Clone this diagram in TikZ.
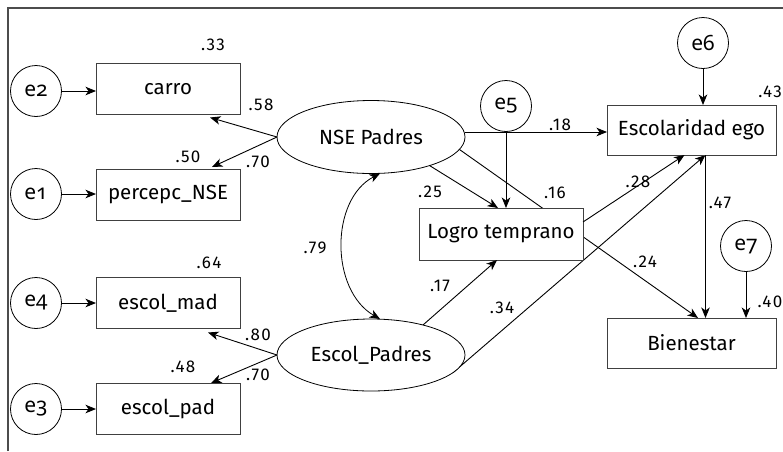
\documentclass[tikz,border=0pt]{standalone}
\usepackage{fontspec}
\setmainfont{Fira Sans}
\newfontfamily\errfont[Numbers=OldStyle]{Noto Sans}
\newfontfamily\coeffont[LetterSpace=8]{Fira Sans}
\usetikzlibrary{arrows.meta,shapes.geometric,backgrounds,calc}

\begin{document}
\begin{tikzpicture}[x=1pt,y=-1pt,
  every node/.style={inner sep=0pt, outer sep=0pt},
  txt/.style={font=\fontsize{20.5}{24}\selectfont},
  obs/.style={txt, rectangle, draw=black!75, line width=0.9pt, fill=white, minimum height=51pt},
  lat/.style={txt, ellipse, draw, line width=0.8pt, fill=white, minimum width=188pt, minimum height=73pt},
  err/.style={circle, draw, line width=0.8pt, fill=white, minimum size=51pt,
              font=\errfont\fontsize{21}{24}\selectfont},
  coef/.style={font=\coeffont\fontsize{17}{18}\selectfont},
  arr/.style={line width=0.9pt, -{Stealth[length=10.5pt,width=8.5pt,inset=3pt]}},
  frameline/.style={draw=black!70, line width=1.6pt}]

\useasboundingbox (0,0) rectangle (783,451);

% outer frame (top and left edges)
\coordinate (fbl) at (8,451);
\coordinate (ftl) at (8,8);
\coordinate (ftr) at (783,8);
\draw[frameline] (fbl) -- (ftl) -- (ftr);

% measured indicators and their errors
\node[err] (e2) at (36,91) {e2};
\node[obs, minimum width=144pt] (carro) at (168,89) {carro};
\node[err] (e1) at (36,194) {e1};
\node[obs, minimum width=144pt] (percepc) at (168,194.5) {percepc\_NSE};
\node[err] (e4) at (36,303) {e4};
\node[obs, minimum width=144pt] (escolmad) at (168,303) {escol\_mad};
\node[err] (e3) at (36,409) {e3};
\node[obs, minimum width=144pt] (escolpad) at (168,408.5) {escol\_pad};

% latent factors
\node[lat] (nse) at (371,137) {NSE Padres};
\node[lat, minimum height=72pt] (escp) at (371,355) {Escol\_Padres};

% endogenous variables
\node[err] (e5) at (506,106) {e5};
\node[obs, minimum width=164pt, minimum height=52pt] (logro) at (501,234) {Logro temprano};
\node[obs, minimum width=169pt, minimum height=50pt] (escego) at (691.5,130) {Escolaridad ego};
\node[err] (e6) at (703,43) {e6};
\node[obs, minimum width=169pt, minimum height=50pt] (bien) at (691.5,343) {Bienestar};
\node[err] (e7) at (746,246) {e7};

% paths that run behind the Logro temprano box
\begin{scope}[on background layer]
  \draw[arr] (nse.-8.5) -- ([xshift=6.5pt]bien.north);
  \draw[arr] (escp.-12.5) -- ([xshift=14pt]escego.south);
\end{scope}

% error terms
\draw[arr] (e2.east) -- (e2.east -| carro.west);
\draw[arr] (e1.east) -- (e1.east -| percepc.west);
\draw[arr] (e4.east) -- (e4.east -| escolmad.west);
\draw[arr] (e3.east) -- (e3.east -| escolpad.west);
\draw[arr] (e5.south) -- (e5.south |- logro.north);
\draw[arr] (e6.south) -- (e6.south |- escego.north);
\draw[arr] (e7.south) -- (e7.south |- bien.north);

% loadings
\draw[arr] (nse.west) -- ([shift={(-30pt,-3pt)}]carro.south east);
\draw[arr] (nse.west) -- ([shift={(-28pt,2pt)}]percepc.north east);
\draw[arr] (escp.west) -- ([shift={(-32pt,-4pt)}]escolmad.south east);
\draw[arr] (escp.west) -- ([xshift=-29pt]escolpad.north east);

% factor covariance
\draw[line width=0.8pt, {Stealth[length=10.5pt,width=8.5pt,inset=3pt]}-{Stealth[length=10.5pt,width=8.5pt,inset=3pt]}]
  ([xshift=9pt]nse.south) .. controls +(-50,26) and +(-50,-29) .. ([xshift=9pt]escp.north);

% structural paths
\draw[arr] ([yshift=5pt]nse.east) -- ([yshift=5pt]nse.east -| escego.west);
\draw[arr] (nse.-26) -- ([xshift=-3pt]logro.north);
\draw[arr] (escp.30) -- ([xshift=-4pt]logro.south);
\draw[arr] ([yshift=12pt]logro.east) -- ([xshift=-7pt]escego.south);
\draw[arr] ([xshift=14pt]escego.south) -- ([xshift=14pt]bien.north);

% coefficients
\node[coef] (c33) at (213,45) {.33};
\node[coef] (c58) at (261,105) {.58};
\node[coef] (c50) at (188,157) {.50};
\node[coef] (c70a) at (258,162) {.70};
\node[coef] (c64) at (209,263) {.64};
\node[coef] (c80) at (258,335) {.80};
\node[coef] (c48) at (183,367) {.48};
\node[coef] (c70b) at (258,375) {.70};
\node[coef] (c79) at (315,248) {.79};
\node[coef] (c25) at (430,192) {.25};
\node[coef] (c16) at (555,193) {.16};
\node[coef] (c18) at (560,125) {.18};
\node[coef] (c43) at (770,92) {.43};
\node[coef] (c28) at (638,182) {.28};
\node[coef] (c47) at (720,203) {.47};
\node[coef] (c17) at (440,286) {.17};
\node[coef] (c34) at (502,308) {.34};
\node[coef] (c24) at (645,262) {.24};
\node[coef] (c40) at (770,302) {.40};

\end{tikzpicture}
\end{document}
